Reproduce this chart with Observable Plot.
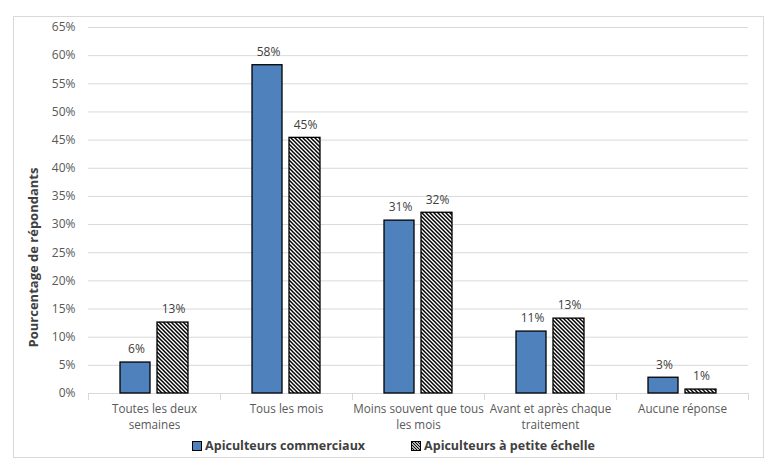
<!DOCTYPE html>
<html><head><meta charset="utf-8">
<script src="https://cdn.jsdelivr.net/npm/d3@7"></script>
<script src="https://cdn.jsdelivr.net/npm/@observablehq/plot@0.6"></script>
<style>
body{margin:0;background:#fff;font-family:"Open Sans",sans-serif;}
#box{position:absolute;left:13px;top:16px;width:749px;height:440px;border:1px solid #d9d9d9;background:#fff;}
#legend{position:absolute;left:0;top:420px;width:749px;display:flex;justify-content:center;gap:46px;font-weight:bold;font-size:12.5px;color:#404040;padding-left:10px;box-sizing:border-box;}
#legend span{display:flex;align-items:center;gap:3px;}
</style></head><body>
<div id="box"><div id="chart"></div><div id="legend"></div></div>
<script>
const categories = ["Toutes les deux semaines","Tous les mois","Moins souvent que tous les mois","Avant et après chaque traitement","Aucune réponse"];
const tickLabels = ["Toutes les deux\nsemaines","Tous les mois","Moins souvent que tous\nles mois","Avant et après chaque\ntraitement","Aucune réponse"];
const series = ["Apiculteurs commerciaux","Apiculteurs à petite échelle"];
const commerciaux = [5.5, 58.3, 30.7, 11.0, 2.8];
const petite = [12.6, 45.4, 32.1, 13.3, 0.7];
const yTicks = [0,5,10,15,20,25,30,35,40,45,50,55,60,65];
const yLabel = "Pourcentage de répondants";
const blue = "#4f81bd";

const dComm = categories.map((c,i)=>({cat:c, v:commerciaux[i]}));
const dSmall = categories.map((c,i)=>({cat:c, v:petite[i]}));
const W = 749, H = 420;
const fontStyle = {fontFamily:"'Open Sans',sans-serif", fontSize:"12px", color:"#595959", overflow:"visible"};

const plot = Plot.plot({
  width: W, height: H,
  marginLeft: 74, marginRight: 15, marginTop: 10, marginBottom: 44,
  style: fontStyle,
  x: {domain: categories, padding: 0, axis: null},
  y: {domain: [0,65], axis: null},
  marks: [
    Plot.ruleY(yTicks, {stroke:"#d9d9d9", strokeWidth:1}),
    Plot.axisY({ticks: yTicks, tickSize: 0, tickPadding: 13, tickFormat: d => d + "%", fill:"#595959", label: null}),
    Plot.tickX(categories, {x: d => d, dx: -66, stroke:"#d9d9d9", insetTop: 366, insetBottom: -7}),
    Plot.tickX(categories.slice(-1), {x: d => d, dx: 66, stroke:"#d9d9d9", insetTop: 366, insetBottom: -7}),
    Plot.barY(dComm, {x:"cat", y:"v", fill: blue, stroke:"#000", strokeWidth:1.3, insetLeft: 32, insetRight: 70}),
    Plot.barY(dSmall, {x:"cat", y:"v", fill: "url(#hatch)", stroke:"#000", strokeWidth:1.3, insetLeft: 69, insetRight: 32}),
    Plot.text(dComm, {x:"cat", y:"v", text: d => Math.round(d.v) + "%", dx: -18, dy: -13, fill:"#404040"}),
    Plot.text(dSmall, {x:"cat", y:"v", text: d => Math.round(d.v) + "%", dx: 19, dy: -13, fill:"#404040"}),
    Plot.text(categories, {x: d => d, text: (d,i) => tickLabels[i], frameAnchor:"bottom", lineAnchor:"top", dy: 8, lineHeight: 1.35, fontSize: 11.7, fill:"#595959"}),
    Plot.text([yLabel], {frameAnchor:"left", textAnchor:"middle", rotate:-90, dx:-55, dy:47, fontWeight:"bold", fontSize:13, fill:"#404040"})
  ]
});
// hatch pattern
const ns = "http://www.w3.org/2000/svg";
const defs = document.createElementNS(ns, "defs");
defs.innerHTML = `<pattern id="hatch" patternUnits="userSpaceOnUse" width="4" height="4">
<rect width="4" height="4" fill="#fff"/>
<path d="M-1,-1 L5,5 M-1,3 L1,5 M3,-1 L5,1" stroke="#000" stroke-width="1.5"/></pattern>`;
plot.insertBefore(defs, plot.firstChild);
document.getElementById("chart").appendChild(plot);

// legend
const lg = document.getElementById("legend");
series.forEach((s,i)=>{
  const sp = document.createElement("span");
  const sw = i===0
    ? `<svg width="10" height="10"><rect x="0.5" y="0.5" width="9" height="9" fill="${blue}" stroke="#000"/></svg>`
    : `<svg width="10" height="10"><defs><pattern id="hl" patternUnits="userSpaceOnUse" width="3" height="3"><rect width="3" height="3" fill="#fff"/><path d="M-1,-1 L4,4 M-1,2 L1,4 M2,-1 L4,1" stroke="#000" stroke-width="1.1"/></pattern></defs><rect x="0.5" y="0.5" width="9" height="9" fill="url(#hl)" stroke="#000"/></svg>`;
  sp.innerHTML = sw + `<span>${s}</span>`;
  lg.appendChild(sp);
});
</script>
</body></html>
